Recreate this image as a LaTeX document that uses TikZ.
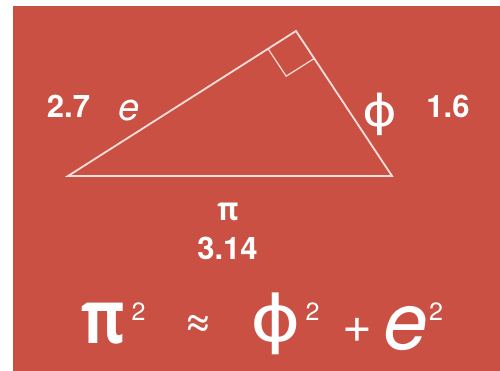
\documentclass[tikz,border=0pt]{standalone}
\usepackage{fontspec}
\setmainfont{TeX Gyre Heros}
\newfontfamily\grk{Open Sans}
\newfontfamily\phifont{DejaVu Sans}
\definecolor{bgred}{RGB}{201,80,67}
\definecolor{linew}{RGB}{250,222,218}
\tikzset{
  lbl/.style={text=white, inner sep=0pt, anchor=center},
  num/.style={lbl, font=\bfseries\fontsize{31}{33}\selectfont},
  supnum/.style={lbl, font=\fontsize{25}{27}\selectfont},
  side/.style={draw=linew, line width=1.8pt, line join=miter},
  rightmark/.style={draw=linew, line width=1.2pt}
}
\begin{document}
\begin{tikzpicture}[x=1pt,y=-1pt]
\useasboundingbox (0,0) rectangle (500,371);
\fill[white] (0,0) rectangle (500,371);
\fill[bgred] (13,6) rectangle (500,371);
\coordinate (A) at (68,176);
\coordinate (B) at (296,31);
\coordinate (C) at (392,176);
\coordinate (P) at (268,48.7);
\coordinate (Q) at (286.2,76.2);
\coordinate (R) at (314.2,58.5);
\draw[side] (A) -- (B) -- (C) -- cycle;
\draw[rightmark] (P) -- (Q) -- (R);
\node[num] (n27) at (68.5,106.5) {2.7};
\node[lbl, font=\itshape\fontsize{38}{40}\selectfont] (ne) at (129,111) {e};
\node[lbl, font=\phifont\fontsize{44}{46}\selectfont] (nphi) at (380,114.5) {\scalebox{1.2}[1]{ϕ}};
\node[num] (n16) at (448,106) {1.6};
\node[lbl, font=\grk\bfseries\fontsize{32}{34}\selectfont] (npi) at (228,211.5) {\scalebox{0.9}[1]{π}};
\node[num] (n314) at (227.5,248.5) {3.14};
\node[lbl, font=\grk\bfseries\fontsize{74}{76}\selectfont] (fpi) at (103,324) {\scalebox{0.8}[1]{π}};
\node[supnum] (fs1) at (138.5,311.5) {2};
\node[lbl, font=\fontsize{46}{48}\selectfont] (fap) at (198.5,325.5) {≈};
\node[lbl, font=\phifont\fontsize{64}{66}\selectfont] (fphi) at (276,323.5) {\scalebox{1.2}[1]{ϕ}};
\node[supnum] (fs2) at (312.5,311.5) {2};
\node[lbl, font=\fontsize{51}{53}\selectfont] (fplus) at (357,330) {+};
\node[lbl, font=\itshape\fontsize{80}{82}\selectfont] (fe) at (406,329) {e};
\node[supnum] (fs3) at (436,311.5) {2};
\end{tikzpicture}
\end{document}
